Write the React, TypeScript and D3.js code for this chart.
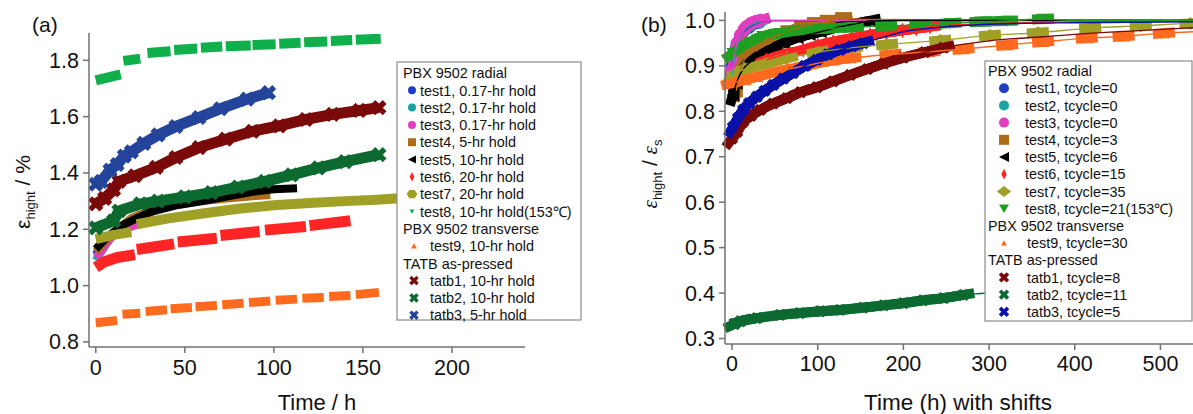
import React from "react";
import * as d3 from "d3";

type Pt = [number, number];

// ---------------- Panel (a): strain (%) vs time (h) ----------------
const aXTicks = [0, 50, 100, 150, 200];
const aYTicks = [0.8, 1.0, 1.2, 1.4, 1.6, 1.8];

const aTest1: Pt[][] = [[[0, 1.11], [3, 1.14], [6, 1.16], [10, 1.19], [20, 1.22], [32, 1.25]]];
const aTest2: Pt[][] = [[[0, 1.09], [3, 1.12], [6, 1.15], [10, 1.18], [18, 1.215], [25, 1.235], [32, 1.255]]];
const aTest3: Pt[][] = [[[0, 1.1], [3, 1.12], [6, 1.15], [10, 1.18], [18, 1.205], [25, 1.22], [32, 1.245]]];
const aTest4: Pt[][] = [[[0, 1.12], [3, 1.14], [7, 1.17], [12, 1.2], [20, 1.24], [30, 1.265], [45, 1.285], [60, 1.3], [75, 1.31], [90, 1.318], [98, 1.322]]];
const aTest5: Pt[][] = [[[0, 1.13], [3, 1.15], [6, 1.17], [10, 1.19], [15, 1.215], [20, 1.23], [30, 1.26], [45, 1.285], [60, 1.3], [75, 1.318], [90, 1.335], [100, 1.342], [113, 1.346]]];
const aTest6: Pt[][] = [
  [[0, 1.065], [5, 1.085], [12, 1.1], [22, 1.11]],
  [[23, 1.128], [44, 1.148]],
  [[46, 1.155], [68, 1.168]],
  [[70, 1.178], [92, 1.192]],
  [[95, 1.197], [118, 1.21]],
  [[120, 1.213], [143, 1.23]],
];
const aTest7: Pt[][] = [
  [[0, 1.165], [10, 1.18], [20, 1.19]],
  [[23, 1.218], [40, 1.238], [60, 1.256], [80, 1.273], [100, 1.285], [120, 1.293], [140, 1.3], [158, 1.305], [170, 1.31]],
];
const aTest8: Pt[][] = [
  [[0, 1.729], [14, 1.75]],
  [[15.5, 1.798], [25, 1.806]],
  [[29, 1.826], [42, 1.832]],
  [[44, 1.837], [57, 1.842]],
  [[59, 1.845], [71, 1.849]],
  [[73, 1.85], [87, 1.853]],
  [[88, 1.854], [101, 1.857]],
  [[103, 1.859], [115, 1.862]],
  [[117, 1.864], [130, 1.867]],
  [[132, 1.869], [144, 1.872]],
  [[146, 1.873], [160, 1.877]],
];
const aTest9: Pt[][] = [
  [[0, 0.868], [12, 0.876]],
  [[15, 0.898], [25, 0.902]],
  [[28, 0.908], [40, 0.914]],
  [[42, 0.918], [54, 0.922]],
  [[56, 0.925], [68, 0.929]],
  [[71, 0.932], [83, 0.937]],
  [[86, 0.94], [98, 0.945]],
  [[101, 0.948], [113, 0.952]],
  [[116, 0.955], [128, 0.958]],
  [[131, 0.961], [143, 0.965]],
  [[146, 0.968], [159, 0.976]],
];
const aTatb1: Pt[][] = [[[0, 1.29], [5, 1.31], [10, 1.34], [13, 1.37], [22, 1.39], [34, 1.42], [45, 1.455], [58, 1.49], [73, 1.52], [88, 1.548], [103, 1.567], [118, 1.59], [133, 1.608], [148, 1.622], [159, 1.632]]];
const aTatb2: Pt[][] = [[[0, 1.205], [10, 1.23], [13, 1.265], [25, 1.29], [35, 1.3], [50, 1.315], [65, 1.33], [80, 1.35], [95, 1.37], [110, 1.393], [125, 1.418], [140, 1.44], [159, 1.465]]];
const aTatb3: Pt[][] = [[[0, 1.36], [3, 1.37], [8, 1.41], [12, 1.43], [16, 1.46], [20, 1.475], [27, 1.505], [35, 1.535], [45, 1.565], [58, 1.597], [70, 1.628], [85, 1.662], [97, 1.685]]];

const aLegendGroups = ["PBX 9502 radial", "PBX 9502 transverse", "TATB as-pressed"];
const aLegendLabels = [
  "test1, 0.17-hr hold", "test2, 0.17-hr hold", "test3, 0.17-hr hold", "test4, 5-hr hold",
  "test5, 10-hr hold", "test6, 20-hr hold", "test7, 20-hr hold", "test8, 10-hr hold(153\u2103)",
  "test9, 10-hr hold", "tatb1, 10-hr hold", "tatb2, 10-hr hold", "tatb3, 5-hr hold",
];

// ---------------- Panel (b): normalized strain vs shifted time ----------------
const bXTicks = [0, 100, 200, 300, 400, 500];
const bYTicks = [0.3, 0.4, 0.5, 0.6, 0.7, 0.8, 0.9, 1.0];

const bTest1: Pt[] = [[0, 0.9], [5, 0.94], [10, 0.965], [20, 0.985], [32, 0.996]];
const bTest2: Pt[] = [[0, 0.88], [3, 0.92], [6, 0.945], [10, 0.965], [15, 0.98], [22, 0.99], [32, 0.997]];
const bTest3: Pt[] = [[0, 0.89], [3, 0.93], [6, 0.95], [10, 0.968], [15, 0.982], [20, 0.99], [25, 0.996], [32, 1.0]];
const bTest4: Pt[] = [[5, 0.845], [8, 0.88], [15, 0.915], [25, 0.937], [36, 0.953], [50, 0.965], [64, 0.975], [80, 0.985], [95, 0.993], [110, 0.998], [128, 1.004]];
const bTest5: Pt[] = [[1, 0.836], [5, 0.862], [12, 0.89], [21, 0.908], [32, 0.922], [44, 0.935], [60, 0.95], [76, 0.962], [90, 0.969], [103, 0.975], [126, 0.986], [145, 0.993], [161, 0.999]];
const bTest6: Pt[] = [[40, 0.913], [60, 0.925], [83, 0.935], [100, 0.945], [118, 0.953], [140, 0.961], [161, 0.968], [180, 0.973], [199, 0.978], [215, 0.982], [231, 0.986]];
const bTest7: Pt[] = [[0, 0.874], [7, 0.887], [20, 0.895], [40, 0.905], [64, 0.917], [100, 0.93], [140, 0.94], [181, 0.947], [243, 0.956], [301, 0.967], [357, 0.973], [418, 0.983], [477, 0.988], [535, 0.993]];
const bTest8: Pt[] = [[1, 0.928], [10, 0.94], [20, 0.952], [36, 0.965], [55, 0.972], [83, 0.979], [110, 0.982], [141, 0.985], [180, 0.988], [220, 0.99], [255, 0.994], [290, 0.997], [321, 0.999], [363, 1.003]];
const bTest9: Pt[] = [[0, 0.862], [15, 0.869], [29, 0.876], [56, 0.889], [85, 0.9], [118, 0.912], [138, 0.917], [185, 0.925], [230, 0.931], [270, 0.937], [321, 0.946], [363, 0.953], [414, 0.961], [457, 0.965], [504, 0.972]];
const bTatb1: Pt[] = [[0, 0.74], [6, 0.755], [13, 0.777], [22, 0.79], [33, 0.803], [48, 0.817], [64, 0.829], [80, 0.842], [99, 0.853], [118, 0.866], [138, 0.88], [158, 0.893], [177, 0.905], [200, 0.918], [225, 0.93], [247, 0.94]];
const bTatb2: Pt[] = [[3, 0.332], [10, 0.338], [29, 0.345], [56, 0.352], [79, 0.356], [103, 0.36], [126, 0.363], [153, 0.368], [177, 0.373], [200, 0.378], [223, 0.384], [247, 0.389], [270, 0.396]];
const bTatb3: Pt[] = [[1, 0.765], [7, 0.785], [13, 0.803], [20, 0.818], [29, 0.832], [38, 0.845], [48, 0.858], [60, 0.872], [71, 0.884], [85, 0.9], [99, 0.913], [112, 0.925], [126, 0.935], [140, 0.943], [153, 0.95]];

// fitted-curve continuations beyond the measured points
const bTest1Fit: Pt[] = [[40, 0.999], [538, 1.0]];
const bTest2Fit: Pt[] = [[40, 1.0], [538, 1.0]];
const bTest3Fit: Pt[] = [[40, 1.0], [538, 1.0]];
const bTest4Fit: Pt[] = [[160, 1.002], [538, 1.0]];
const bTest5Fit: Pt[] = [[200, 1.0], [538, 1.0]];
const bTest6Fit: Pt[] = [[260, 0.99], [320, 0.994], [400, 0.997], [538, 0.999]];
const bTest7Fit: Pt[] = [[538, 0.993]];
const bTest8Fit: Pt[] = [[400, 1.0], [538, 1.0]];
const bTest9Fit: Pt[] = [[538, 0.975]];
const bTatb1Fit: Pt[] = [[300, 0.955], [363, 0.964], [420, 0.972], [480, 0.978], [538, 0.984]];
const bTatb2Fit: Pt[] = [[290, 0.399], [330, 0.404]];
const bTatb3Fit: Pt[] = [[180, 0.965], [200, 0.975], [250, 0.986], [310, 0.992], [400, 0.995], [538, 0.997]];

const bLegendGroups = ["PBX 9502 radial", "PBX 9502 transverse", "TATB as-pressed"];
const bLegendLabels = [
  "test1, tcycle=0", "test2, tcycle=0", "test3, tcycle=0", "test4, tcycle=3",
  "test5, tcycle=6", "test6, tcycle=15", "test7, tcycle=35", "test8, tcycle=21(153\u2103)",
  "test9, tcycle=30", "tatb1, tcycle=8", "tatb2, tcycle=11", "tatb3, tcycle=5",
];

// ---------------- styling ----------------
const FONT = "'Liberation Sans', Arial, Helvetica, sans-serif";
const AXIS = "#707070";
const LEG_FS = 14.4;

const C = {
  t1: "#1f3cc4", t2: "#1aa3a3", t3: "#e23cbf", t4: "#ac6c18", t5: "#000000", t6: "#ff2525",
  t7: "#a0a026", t8a: "#0fb04c", t8b: "#1f9f1f", t9: "#ff6a1e", k1: "#7a0909", k2: "#0c6a30",
  k3a: "#24449c", k3b: "#0b10a8",
};

type Shape = "circle" | "square" | "triLeft" | "diamond" | "hex" | "diamondWide" | "triDown" | "triUp" | "x";

function glyph(shape: Shape, s: number): string {
  const h = s / 2;
  switch (shape) {
    case "circle": return d3.symbol(d3.symbolCircle, Math.PI * h * h)() as string;
    case "square": return `M${-h},${-h}H${h}V${h}H${-h}Z`;
    case "triLeft": return `M${-h},0L${h},${-h}L${h},${h}Z`;
    case "triDown": return `M${-h},${-h * 0.8}L${h},${-h * 0.8}L0,${h * 0.9}Z`;
    case "triUp": return `M${-h},${h * 0.8}L${h},${h * 0.8}L0,${-h * 0.9}Z`;
    case "diamond": return `M0,${-h * 1.2}L${h * 0.6},0L0,${h * 1.2}L${-h * 0.6},0Z`;
    case "diamondWide": return `M0,${-h}L${h * 1.3},0L0,${h}L${-h * 1.3},0Z`;
    case "hex": return `M${-h * 1.2},0L${-h * 0.6},${-h * 0.9}L${h * 0.6},${-h * 0.9}L${h * 1.2},0L${h * 0.6},${h * 0.9}L${-h * 0.6},${h * 0.9}Z`;
    case "x": {
      const t = s * 0.17;
      const p = [[-t, -h], [t, -h], [t, -t], [h, -t], [h, t], [t, t], [t, h], [-t, h], [-t, t], [-h, t], [-h, -t], [-t, -t]];
      const r = Math.PI / 4;
      return "M" + p.map(([x, y]) => `${x * Math.cos(r) - y * Math.sin(r)},${x * Math.sin(r) + y * Math.cos(r)}`).join("L") + "Z";
    }
  }
}

// scales
const aX = d3.scaleLinear().domain([-3.8, 241]).range([89, 525]);
const aY = d3.scaleLinear().domain([0.782, 1.897]).range([347, 33]);
const bX = d3.scaleLinear().domain([-8.2, 538]).range([725, 1193]);
const bY = d3.scaleLinear().domain([0.288, 1.0185]).range([344, 12]);

const aLine = d3.line<Pt>().x((d) => aX(d[0])).y((d) => aY(d[1]));
const bLine = d3.line<Pt>().x((d) => bX(d[0])).y((d) => bY(d[1])).curve(d3.curveMonotoneX);
const bBand = d3.line<Pt>().x((d) => bX(d[0])).y((d) => bY(d[1]));

type ASeries = { data: Pt[][]; color: string; width: number; shape?: Shape };
const aSeries: ASeries[] = [
  { data: aTest1, color: C.t1, width: 8 },
  { data: aTest2, color: C.t2, width: 8 },
  { data: aTest3, color: C.t3, width: 8 },
  { data: aTest4, color: C.t4, width: 8 },
  { data: aTest5, color: C.t5, width: 8 },
  { data: aTest6, color: C.t6, width: 11 },
  { data: aTest7, color: C.t7, width: 10 },
  { data: aTest8, color: C.t8a, width: 10 },
  { data: aTest9, color: C.t9, width: 9 },
  { data: aTatb1, color: C.k1, width: 11, shape: "x" },
  { data: aTatb2, color: C.k2, width: 11, shape: "x" },
  { data: aTatb3, color: C.k3a, width: 11, shape: "x" },
];

type BSeries = { data: Pt[]; fit: Pt[]; color: string; shape: Shape };
const bSeries: BSeries[] = [
  { data: bTest1, fit: bTest1Fit, color: C.t1, shape: "circle" },
  { data: bTest2, fit: bTest2Fit, color: C.t2, shape: "circle" },
  { data: bTest3, fit: bTest3Fit, color: C.t3, shape: "circle" },
  { data: bTest4, fit: bTest4Fit, color: C.t4, shape: "square" },
  { data: bTest5, fit: bTest5Fit, color: C.t5, shape: "triLeft" },
  { data: bTest6, fit: bTest6Fit, color: C.t6, shape: "diamond" },
  { data: bTest7, fit: bTest7Fit, color: C.t7, shape: "diamondWide" },
  { data: bTest8, fit: bTest8Fit, color: C.t8b, shape: "triDown" },
  { data: bTest9, fit: bTest9Fit, color: C.t9, shape: "triUp" },
  { data: bTatb1, fit: bTatb1Fit, color: C.k1, shape: "x" },
  { data: bTatb2, fit: bTatb2Fit, color: C.k2, shape: "x" },
  { data: bTatb3, fit: bTatb3Fit, color: C.k3b, shape: "x" },
];

const aLegendShapes: { shape: Shape; size: number; color: string }[] = [
  { shape: "circle", size: 8, color: C.t1 }, { shape: "circle", size: 8, color: C.t2 },
  { shape: "circle", size: 8, color: C.t3 }, { shape: "square", size: 8, color: C.t4 },
  { shape: "triLeft", size: 8, color: C.t5 }, { shape: "diamond", size: 8, color: C.t6 },
  { shape: "hex", size: 9, color: C.t7 }, { shape: "triDown", size: 5, color: C.t8a },
  { shape: "triUp", size: 6, color: C.t9 }, { shape: "x", size: 10, color: C.k1 },
  { shape: "x", size: 10, color: C.k2 }, { shape: "x", size: 10, color: C.k3a },
];
const bLegendShapes: { shape: Shape; size: number; color: string }[] = [
  { shape: "circle", size: 10, color: C.t1 }, { shape: "circle", size: 10, color: C.t2 },
  { shape: "circle", size: 10, color: C.t3 }, { shape: "square", size: 10, color: C.t4 },
  { shape: "triLeft", size: 10, color: C.t5 }, { shape: "diamond", size: 9, color: C.t6 },
  { shape: "diamondWide", size: 11, color: C.t7 }, { shape: "triDown", size: 10, color: C.t8b },
  { shape: "triUp", size: 6, color: C.t9 }, { shape: "x", size: 11, color: C.k1 },
  { shape: "x", size: 11, color: C.k2 }, { shape: "x", size: 11, color: C.k3b },
];

function Legend(props: {
  x: number; y: number; w: number; h: number; first: number; step: number;
  groups: string[]; labels: string[]; shapes: { shape: Shape; size: number; color: string }[];
  headX: number; markX: number[]; textX: number[];
}) {
  const { x, y, w, h, first, step, groups, labels, shapes, headX, markX, textX } = props;
  // row layout: header, 8 items, header, 1 item, header, 3 items
  const rows: { kind: "h" | "i"; idx: number }[] = [];
  rows.push({ kind: "h", idx: 0 });
  for (let i = 0; i < 8; i++) rows.push({ kind: "i", idx: i });
  rows.push({ kind: "h", idx: 1 });
  rows.push({ kind: "i", idx: 8 });
  rows.push({ kind: "h", idx: 2 });
  for (let i = 9; i < 12; i++) rows.push({ kind: "i", idx: i });
  return (
    <g>
      <rect x={x} y={y} width={w} height={h} fill="#fff" stroke="#8a8a8a" strokeWidth={1.2} />
      {rows.map((r, k) => {
        const cy = first + k * step;
        if (r.kind === "h")
          return (
            <text key={k} x={headX} y={cy + 5.2} fontSize={LEG_FS} fontFamily={FONT} fill="#111">
              {groups[r.idx]}
            </text>
          );
        const s = shapes[r.idx];
        const grp = r.idx < 8 ? 0 : 1;
        return (
          <g key={k}>
            <path d={glyph(s.shape, s.size)} transform={`translate(${markX[grp]},${cy})`} fill={s.color} />
            <text x={textX[grp]} y={cy + 5.2} fontSize={LEG_FS} fontFamily={FONT} fill="#111">
              {labels[r.idx]}
            </text>
          </g>
        );
      })}
    </g>
  );
}

function dashesFor(pts: Pt[], half: number) {
  // a short thick stroke centered on each measured point, following the local slope (in pixels)
  const px = pts.map((p) => [bX(p[0]), bY(p[1])] as [number, number]);
  return px.map((p, i) => {
    const a = px[Math.max(0, i - 1)];
    const b = px[Math.min(px.length - 1, i + 1)];
    let dx = b[0] - a[0];
    let dy = b[1] - a[1];
    const len = Math.hypot(dx, dy) || 1;
    dx /= len; dy /= len;
    return `M${p[0] - dx * half},${p[1] - dy * half}L${p[0] + dx * half},${p[1] + dy * half}`;
  });
}

function bandGroups(pts: Pt[], maxGap: number): Pt[][] {
  const out: Pt[][] = [];
  let cur: Pt[] = [pts[0]];
  for (let i = 1; i < pts.length; i++) {
    const d = Math.hypot(bX(pts[i][0]) - bX(pts[i - 1][0]), bY(pts[i][1]) - bY(pts[i - 1][1]));
    if (d < maxGap) cur.push(pts[i]);
    else { out.push(cur); cur = [pts[i]]; }
  }
  out.push(cur);
  return out.filter((g) => g.length > 1);
}

export default function App() {
  return (
    <svg width={1193} height={414} style={{ position: "absolute", left: 0, top: 0, background: "#fff" }}
      xmlns="http://www.w3.org/2000/svg">
      <rect x={0} y={0} width={1193} height={414} fill="#fff" />

      {/* ================= Panel (a) ================= */}
      <text x={32} y={32} fontSize={21} fontFamily={FONT} fill="#111">(a)</text>
      {aSeries.map((s, i) => (
        <g key={i}>
          {s.data.map((seg, j) => (
            <path key={j} d={aLine(seg) as string} fill="none" stroke={s.color} strokeWidth={s.width}
              strokeLinecap="butt" strokeLinejoin="round" />
          ))}
          {s.shape &&
            s.data.flat().map((p, j) => (
              <path key={"m" + j} d={glyph(s.shape as Shape, 16)} transform={`translate(${aX(p[0])},${aY(p[1])})`} fill={s.color} />
            ))}
        </g>
      ))}
      {/* axes (a) */}
      <line x1={89} y1={33} x2={89} y2={347} stroke={AXIS} strokeWidth={1.5} />
      <line x1={89} y1={347} x2={525} y2={347} stroke={AXIS} strokeWidth={1.5} />
      {aYTicks.map((t) => (
        <g key={t}>
          <line x1={83} x2={89} y1={aY(t)} y2={aY(t)} stroke={AXIS} strokeWidth={1.5} />
          <text x={79} y={aY(t) + 7.5} textAnchor="end" fontSize={21.5} fontFamily={FONT} fill="#111">
            {d3.format(".1f")(t)}
          </text>
        </g>
      ))}
      {aXTicks.map((t) => (
        <g key={t}>
          <line x1={aX(t)} x2={aX(t)} y1={347} y2={353} stroke={AXIS} strokeWidth={1.5} />
          <text x={aX(t)} y={375} textAnchor="middle" fontSize={21.5} fontFamily={FONT} fill="#111">{t}</text>
        </g>
      ))}
      <text x={317} y={410} textAnchor="middle" fontSize={22} fontFamily={FONT} fill="#111">Time / h</text>
      <text transform="translate(30,192) rotate(-90)" textAnchor="middle" fontSize={21} fontFamily={FONT} fill="#111">
        {"\u03B5"}
        <tspan fontSize={13} dy={5}>hight</tspan>
        <tspan dy={-5}>{" / %"}</tspan>
      </text>
      <Legend x={397} y={62} w={184} h={258} first={73} step={17.3}
        groups={aLegendGroups} labels={aLegendLabels} shapes={aLegendShapes}
        headX={403} markX={[412, 414]} textX={[420, 430]} />

      {/* ================= Panel (b) ================= */}
      <text x={641} y={32} fontSize={21} fontFamily={FONT} fill="#111">(b)</text>
      {bSeries.map((s, i) => (
        <g key={i}>
          {bandGroups(s.data, 30).map((g, j) => (
            <path key={j} d={bBand(g) as string} fill="none" stroke={s.color} strokeWidth={10} strokeLinejoin="round" />
          ))}
          {dashesFor(s.data, 11).map((d, j) => (
            <path key={"d" + j} d={d} fill="none" stroke={s.color} strokeWidth={10} />
          ))}
          {s.data.map((p, j) => (
            <path key={"g" + j} d={glyph(s.shape, 13)} transform={`translate(${bX(p[0])},${bY(p[1])})`} fill={s.color} />
          ))}
        </g>
      ))}
      {bSeries.map((s, i) => (
        <path key={"f" + i} d={bLine([...s.data, ...s.fit]) as string} fill="none" stroke={s.color} strokeWidth={1.4} />
      ))}
      {/* axes (b) */}
      <line x1={725} y1={12} x2={725} y2={344} stroke={AXIS} strokeWidth={1.5} />
      <line x1={725} y1={344} x2={1193} y2={344} stroke={AXIS} strokeWidth={1.5} />
      {bYTicks.map((t) => (
        <g key={t}>
          <line x1={719} x2={725} y1={bY(t)} y2={bY(t)} stroke={AXIS} strokeWidth={1.5} />
          <text x={715} y={bY(t) + 7.5} textAnchor="end" fontSize={21.5} fontFamily={FONT} fill="#111">
            {d3.format(".1f")(t)}
          </text>
        </g>
      ))}
      {bXTicks.map((t) => (
        <g key={t}>
          <line x1={bX(t)} x2={bX(t)} y1={344} y2={350} stroke={AXIS} strokeWidth={1.5} />
          <text x={bX(t)} y={371} textAnchor="middle" fontSize={21.5} fontFamily={FONT} fill="#111">{t}</text>
        </g>
      ))}
      <text x={958} y={410} textAnchor="middle" fontSize={22.5} fontFamily={FONT} fill="#111">Time (h) with shifts</text>
      <text transform="translate(657,174) rotate(-90)" textAnchor="middle" fontSize={21} fontFamily={FONT} fill="#111">
        <tspan fontFamily="'Liberation Serif', serif" fontStyle="italic">{"\u03B5"}</tspan>
        <tspan fontSize={13} dy={5}>hight</tspan>
        <tspan dy={-5}>{" / "}</tspan>
        <tspan fontFamily="'Liberation Serif', serif" fontStyle="italic">{"\u03B5"}</tspan>
        <tspan fontSize={13} dy={5}>s</tspan>
      </text>
      <Legend x={985} y={61} w={207} h={260} first={71} step={17.2}
        groups={bLegendGroups} labels={bLegendLabels} shapes={bLegendShapes}
        headX={988} markX={[1004, 1004]} textX={[1025, 1027]} />
    </svg>
  );
}
